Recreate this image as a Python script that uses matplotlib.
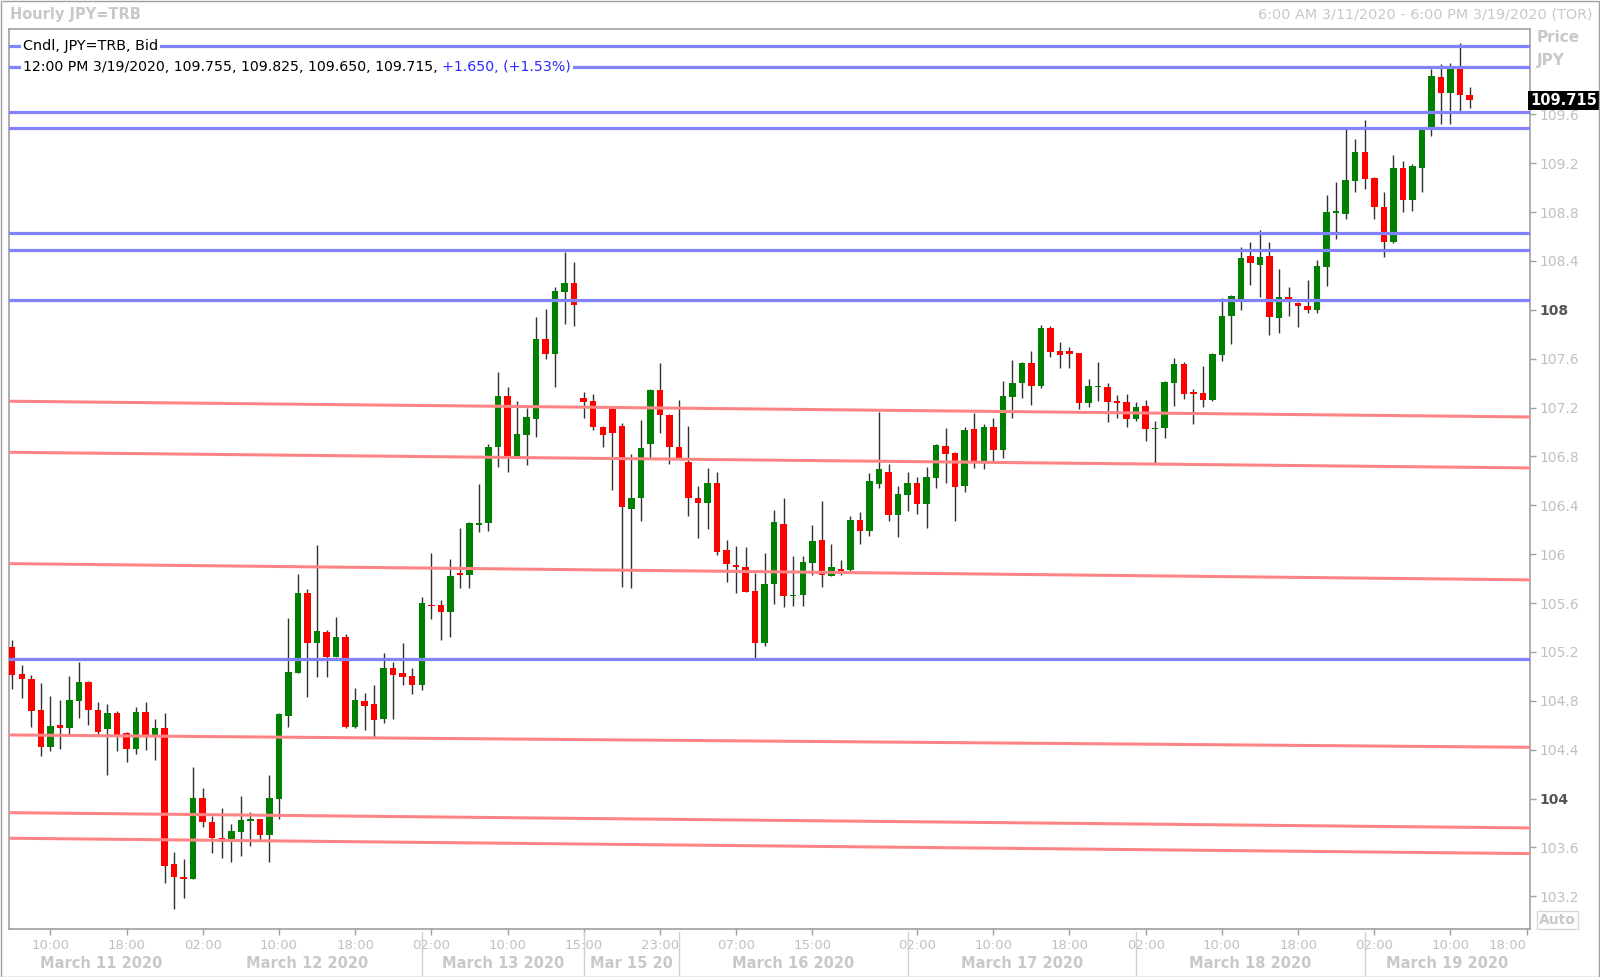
import matplotlib
matplotlib.use('Agg')
import matplotlib.pyplot as plt
import matplotlib.transforms as mtransforms
from matplotlib.patches import Rectangle
import numpy as np

# Hourly JPY=TRB candles, 6:00 AM 3/11/2020 .. 12:00 PM 3/19/2020 (one entry per candle)
opens = [
    105.238, 105.020, 104.979, 104.722, 104.422, 104.605, 104.575, 104.801, 104.951, 104.722,
    104.570, 104.700, 104.537, 104.406, 104.706, 104.515, 104.580, 103.462, 103.356, 103.339,
    104.005, 103.806, 103.675, 103.648, 103.730, 103.819, 103.833, 103.705, 104.000, 104.679,
    105.028, 105.680, 105.271, 105.361, 105.161, 105.320, 104.583, 104.799, 104.771, 104.649,
    105.066, 105.028, 105.003, 104.930, 105.587, 105.587, 105.527, 105.849, 105.830, 106.236,
    106.253, 106.875, 107.297, 106.790, 106.978, 107.109, 107.764, 107.641, 108.146, 108.222,
    107.281, 107.254, 107.038, 107.188, 107.052, 106.370, 106.463, 106.899, 107.341, 107.139,
    106.880, 106.757, 106.460, 106.416, 106.583, 106.032, 105.912, 105.898, 105.696, 105.276,
    105.753, 106.250, 105.661, 105.666, 105.931, 106.116, 105.824, 105.880, 105.870, 106.280,
    106.193, 106.575, 106.676, 106.321, 106.485, 106.583, 106.408, 106.627, 106.888, 106.826,
    106.558, 107.022, 106.752, 107.044, 106.853, 107.289, 107.399, 107.568, 107.380, 107.849,
    107.660, 107.660, 107.644, 107.240, 107.368, 107.371, 107.254, 107.249, 107.109, 107.216,
    107.022, 107.030, 107.404, 107.554, 107.328, 107.322, 107.262, 107.630, 107.950, 108.086,
    108.441, 108.367, 108.440, 107.930, 108.105, 108.056, 108.034, 107.998, 108.350, 108.795,
    108.784, 109.057, 109.289, 109.082, 108.844, 108.558, 109.158, 108.899, 109.163, 109.499,
    109.903, 109.777, 109.976, 109.755]
highs = [
    105.298, 105.096, 105.009, 104.949, 104.840, 104.807, 105.006, 105.121, 104.962, 104.790,
    104.777, 104.719, 104.545, 104.747, 104.790, 104.649, 104.703, 103.560, 103.503, 104.256,
    104.084, 103.860, 103.920, 103.790, 104.021, 103.890, 103.835, 104.193, 104.700, 105.478,
    105.838, 105.712, 106.073, 105.380, 105.483, 105.347, 104.902, 104.861, 104.927, 105.189,
    105.115, 105.276, 105.066, 105.652, 106.013, 105.625, 105.961, 106.212, 106.260, 106.572,
    106.899, 107.488, 107.366, 107.256, 107.199, 107.941, 108.004, 108.184, 108.473, 108.388,
    107.325, 107.311, 107.049, 107.190, 107.071, 106.820, 107.098, 107.349, 107.568, 107.145,
    107.262, 107.052, 106.561, 106.706, 106.670, 106.116, 106.065, 106.056, 105.844, 106.007,
    106.362, 106.457, 105.985, 105.985, 106.236, 106.435, 106.081, 105.950, 106.310, 106.346,
    106.662, 107.161, 106.738, 106.561, 106.670, 106.632, 106.711, 106.902, 107.033, 106.839,
    107.044, 107.153, 107.066, 107.112, 107.420, 107.590, 107.573, 107.666, 107.873, 107.868,
    107.737, 107.696, 107.650, 107.434, 107.576, 107.404, 107.303, 107.311, 107.249, 107.262,
    107.093, 107.418, 107.609, 107.576, 107.352, 107.540, 107.649, 108.094, 108.120, 108.511,
    108.558, 108.656, 108.552, 108.331, 108.189, 108.060, 108.244, 108.408, 108.940, 109.049,
    109.480, 109.398, 109.553, 109.085, 108.962, 109.267, 109.218, 109.191, 109.485, 109.968,
    110.009, 110.017, 110.181, 109.825]
lows = [
    104.894, 104.820, 104.589, 104.349, 104.389, 104.403, 104.529, 104.662, 104.600, 104.520,
    104.196, 104.389, 104.297, 104.362, 104.398, 104.319, 103.307, 103.094, 103.189, 103.339,
    103.770, 103.555, 103.517, 103.484, 103.533, 103.615, 103.661, 103.484, 103.830, 104.583,
    105.025, 104.834, 104.998, 104.998, 105.155, 104.575, 104.575, 104.561, 104.501, 104.621,
    104.649, 104.927, 104.859, 104.889, 105.467, 105.298, 105.320, 105.721, 105.721, 106.182,
    106.190, 106.711, 106.673, 106.785, 106.727, 106.962, 107.600, 107.365, 107.887, 107.870,
    107.117, 107.014, 106.877, 106.525, 105.734, 105.721, 106.275, 106.785, 106.989, 106.736,
    106.785, 106.315, 106.135, 106.204, 105.991, 105.775, 105.685, 105.694, 105.148, 105.249,
    105.590, 105.565, 105.579, 105.579, 105.830, 105.729, 105.819, 105.830, 105.850, 106.080,
    106.150, 106.539, 106.272, 106.144, 106.357, 106.332, 106.212, 106.545, 106.586, 106.275,
    106.507, 106.706, 106.695, 106.757, 106.790, 107.112, 107.281, 107.218, 107.358, 107.617,
    107.521, 107.521, 107.186, 107.205, 107.257, 107.079, 107.118, 107.038, 107.093, 106.929,
    106.738, 106.954, 107.213, 107.273, 107.063, 107.202, 107.257, 107.584, 107.718, 107.999,
    108.200, 108.108, 107.794, 107.807, 107.952, 107.862, 107.977, 107.977, 108.195, 108.580,
    108.743, 108.962, 108.989, 108.743, 108.435, 108.544, 108.801, 108.809, 108.967, 109.423,
    109.521, 109.521, 109.627, 109.650]
closes = [
    105.011, 104.976, 104.717, 104.422, 104.597, 104.578, 104.807, 104.957, 104.725, 104.545,
    104.700, 104.520, 104.406, 104.706, 104.520, 104.580, 103.448, 103.361, 103.339, 104.005,
    103.806, 103.680, 103.642, 103.732, 103.825, 103.830, 103.699, 104.008, 104.692, 105.039,
    105.680, 105.271, 105.369, 105.161, 105.320, 104.589, 104.807, 104.758, 104.640, 105.066,
    105.011, 104.998, 104.930, 105.598, 105.579, 105.527, 105.822, 105.833, 106.253, 106.258,
    106.880, 107.297, 106.790, 106.984, 107.123, 107.764, 107.641, 108.151, 108.217, 108.037,
    107.248, 107.038, 106.978, 106.995, 106.389, 106.460, 106.866, 107.341, 107.139, 106.875,
    106.785, 106.463, 106.416, 106.583, 106.018, 105.917, 105.895, 105.694, 105.276, 105.756,
    106.266, 105.661, 105.666, 105.939, 106.108, 105.827, 105.898, 105.862, 106.280, 106.193,
    106.599, 106.700, 106.321, 106.490, 106.583, 106.408, 106.632, 106.897, 106.820, 106.547,
    107.014, 106.752, 107.044, 106.853, 107.295, 107.401, 107.568, 107.380, 107.854, 107.658,
    107.633, 107.641, 107.240, 107.379, 107.374, 107.249, 107.240, 107.109, 107.208, 107.022,
    107.033, 107.412, 107.554, 107.314, 107.311, 107.262, 107.641, 107.950, 108.113, 108.421,
    108.381, 108.429, 107.944, 108.105, 108.061, 108.031, 108.001, 108.361, 108.798, 108.806,
    109.062, 109.289, 109.071, 108.839, 108.558, 109.158, 108.899, 109.177, 109.480, 109.914,
    109.777, 109.976, 109.758, 109.715]

# horizontal levels drawn on the chart
blue_levels = [110.162, 109.990, 109.622, 109.491, 108.626, 108.486, 108.079, 105.141]
red_left = [107.252, 106.834, 105.923, 104.521, 103.885, 103.676]
red_right = [107.123, 106.706, 105.790, 104.420, 103.760, 103.550]

price_ticks = [103.2, 103.6, 104.0, 104.4, 104.8, 105.2, 105.6, 106.0, 106.4,
               106.8, 107.2, 107.6, 108.0, 108.4, 108.8, 109.2, 109.6]
tick_idx = [4, 12, 20, 28, 36, 44, 52, 60, 68, 76, 84, 95, 103, 111, 119, 127, 135, 143, 151, 159]
tick_labels = ['10:00', '18:00', '02:00', '10:00', '18:00', '02:00', '10:00', '15:00', '23:00',
               '07:00', '15:00', '02:00', '10:00', '18:00', '02:00', '10:00', '18:00', '02:00',
               '10:00', '18:00']
day_names = ['March 11 2020', 'March 12 2020', 'March 13 2020', 'Mar 15 20', 'March 16 2020',
             'March 17 2020', 'March 18 2020', 'March 19 2020']
day_edges = [19, 43, 60, 70, 94, 118, 142]

legend_1 = 'Cndl, JPY=TRB, Bid'
legend_2 = '12:00 PM 3/19/2020, 109.755, 109.825, 109.650, 109.715, '
legend_chg = '+1.650, (+1.53%)'
last_price = 109.715

W, H = 1600, 977
fig = plt.figure(figsize=(W / 100, H / 100), dpi=100)
fig.patch.set_facecolor('white')
ax = fig.add_axes([8.5 / W, (H - 929) / H, (1530 - 8.5) / W, (929 - 28.5) / H])

o = np.array(opens)
h = np.array(highs)
l = np.array(lows)
c = np.array(closes)
x = np.arange(len(c))
up = c >= o

ax.vlines(x, l, h, color='#303030', lw=1, zorder=2)
body = np.maximum(np.abs(c - o), 0.009)
ax.bar(x, body, bottom=np.minimum(o, c), width=0.68,
       color=np.where(up, '#008000', '#ff0000'), linewidth=0, zorder=3)

x0, x1 = -0.39, 159.35
ax.set_xlim(x0, x1)
ax.set_ylim(102.933, 110.302)

for lv in blue_levels:
    ax.axhline(lv, color='#8282ff', lw=2.3, zorder=4)
for a, b in zip(red_left, red_right):
    ax.plot([x0, x1], [a, b], color='#ff8585', lw=2.2, zorder=4)

# price axis on the right
ax.yaxis.tick_right()
ax.set_yticks(price_ticks)
ax.set_yticklabels(['%g' % p for p in price_ticks])
ax.tick_params(axis='y', length=4, width=1, color='#a0a0a0', labelcolor='#c0c0c0',
               labelsize=10, pad=3)
for lab, p in zip(ax.get_yticklabels(), price_ticks):
    if abs(p - round(p)) < 1e-6 and round(p) % 4 == 0:
        lab.set_fontweight('bold')
        lab.set_color('#555555')

ax.set_xticks(tick_idx)
ax.set_xticklabels(tick_labels)
ax.tick_params(axis='x', length=4, width=1, color='#a0a0a0', labelcolor='#c0c0c0',
               labelsize=9.5, pad=3)
# the last time label is kept inside the plot width
ax.get_xticklabels()[-1].set_horizontalalignment('right')
for s in ax.spines.values():
    s.set_color('#a0a0a0')
    s.set_linewidth(1.2)

# day names and separators under the time labels
ah = 929 - 28.5
trans = mtransforms.blended_transform_factory(ax.transData, ax.transAxes)
edges = [x0] + day_edges + [x1]
for k, name in enumerate(day_names):
    ax.text((edges[k] + edges[k + 1]) / 2, -(963 - 929) / ah, name, transform=trans,
            ha='center', va='center', fontsize=10.5, fontweight='bold', color='#c8c8c8',
            clip_on=False)
for e in day_edges[1:]:  # no separator shown between March 11 and 12
    ax.plot([e, e], [-(932 - 929) / ah, -(975 - 929) / ah], transform=trans,
            color='#d0d0d0', lw=1, clip_on=False)

# legend lines sitting on the top two blue levels
tl = mtransforms.blended_transform_factory(ax.transAxes, ax.transData)
lx = (23 - 8.5) / (1530 - 8.5)
box = dict(boxstyle='square,pad=0.12', fc='white', ec='none')
ax.text(lx, blue_levels[0], legend_1, transform=tl, ha='left', va='center',
        fontsize=10.4, color='black', zorder=6, bbox=box)
t2 = ax.text(lx, blue_levels[1], legend_2, transform=tl, ha='left', va='center',
             fontsize=10.15, color='black', zorder=6, bbox=box)
ax.annotate(legend_chg, xy=(1, 0.5), xycoords=t2, ha='left', va='center',
            fontsize=10.15, color='#2a2aff', zorder=6, bbox=box)

# last price tag
ax.text(1.0, last_price, '%.3f' % last_price, transform=tl, ha='left', va='center',
        fontsize=10.5, fontweight='bold', color='white', zorder=10, clip_on=False,
        bbox=dict(boxstyle='square,pad=0.15', fc='black', ec='none'))

fig.text(10 / W, 1 - 15 / H, 'Hourly JPY=TRB', ha='left', va='center', fontsize=10.5,
         fontweight='bold', color='#c8c8c8')
fig.text(1593 / W, 1 - 15 / H, '6:00 AM 3/11/2020 - 6:00 PM 3/19/2020 (TOR)', ha='right',
         va='center', fontsize=10.4, color='#c8c8c8')
fig.text(1537 / W, 1 - 38 / H, 'Price', ha='left', va='center', fontsize=11,
         fontweight='bold', color='#c8c8c8')
fig.text(1537 / W, 1 - 60 / H, 'JPY', ha='left', va='center', fontsize=11,
         fontweight='bold', color='#c8c8c8')
fig.text(1539 / W, 1 - 920 / H, 'Auto', ha='left', va='center', fontsize=10,
         fontweight='bold', color='#c8c8c8',
         bbox=dict(boxstyle='square,pad=0.15', fc='white', ec='#d8d8d8', lw=1))

fig.add_artist(Rectangle((0.5 / W, 0.5 / H), (W - 1.5) / W, (H - 1.5) / H,
                         transform=fig.transFigure, fill=False, ec='#a0a0a0', lw=1))

fig.savefig('out.png', dpi=100)
